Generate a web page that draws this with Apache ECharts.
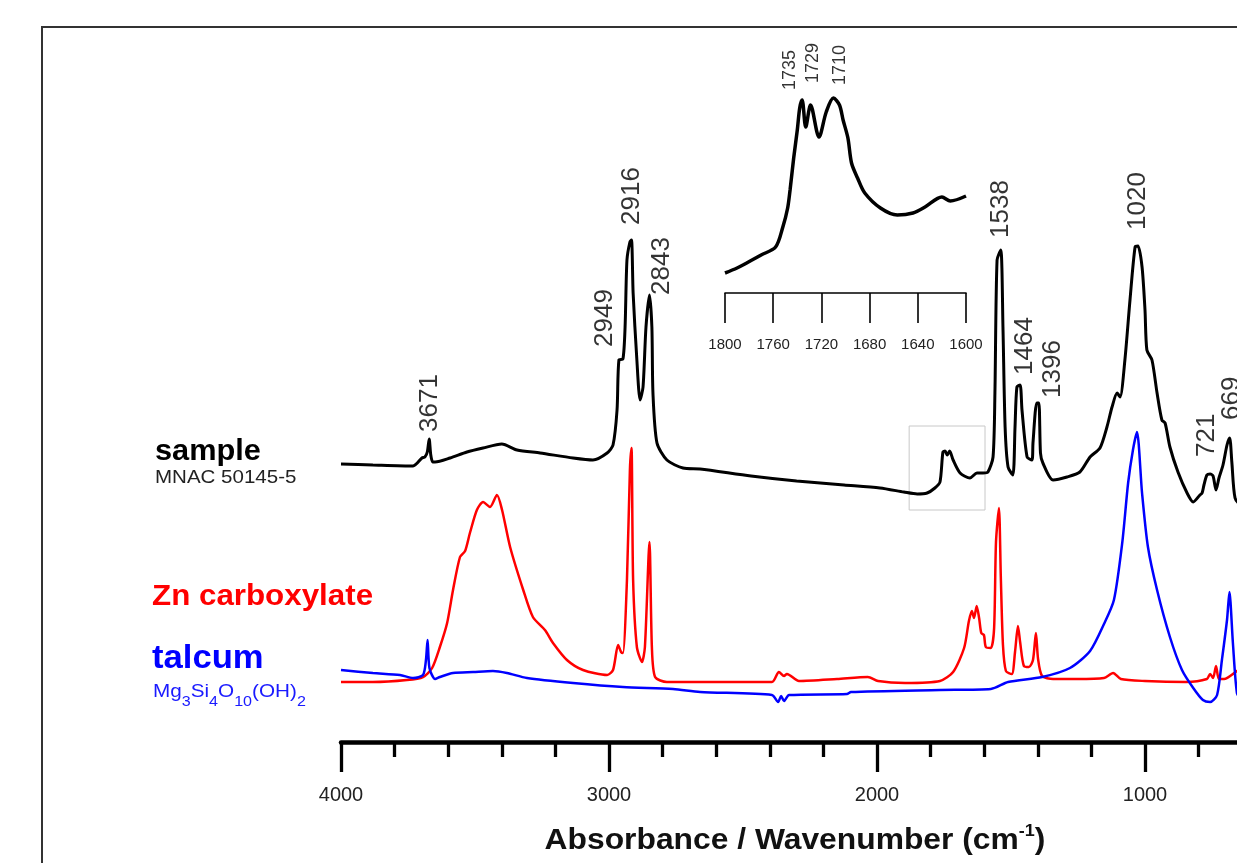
<!DOCTYPE html>
<html>
<head>
<meta charset="utf-8">
<script src="https://cdn.jsdelivr.net/npm/echarts@6/dist/echarts.min.js"></script>
<style>
html,body{margin:0;padding:0;background:#fff;}
#chart{width:1237px;height:863px;}
</style>
</head>
<body>
<div id="chart"></div>
<script>
// ---- data: [wavenumber cm-1, offset absorbance (arbitrary units)] ----
const sampleSpectrum = [
 [4000,278],[3881,277],[3731,276],[3698,284],[3687,285],[3678,290],[3671,303],[3665,287],[3658,280],
 [3649,280],[3593,284],[3530,290],[3470,294],[3400,298],[3343,292],[3257,289],[3134,284],[3060,282],
 [3007,289],[2985,297],[2970,332],[2963,382],[2948,383],[2940,415],[2933,482],[2922,500],[2916,502],
 [2910,449],[2896,382],[2884,342],[2873,355],[2862,415],[2849,447],[2840,415],[2836,349],[2821,299],
 [2784,282],[2724,274],[2660,273],[2470,266],[2300,261],[2123,257],[1989,254],[1900,250],[1850,248],
 [1813,249],[1784,254],[1765,260],[1754,290],[1746,291],[1738,287],[1729,291],[1716,282],[1690,269],
 [1653,264],[1627,269],[1604,269],[1586,270],[1567,285],[1560,349],[1552,482],[1538,492],[1530,415],
 [1522,315],[1511,275],[1493,267],[1485,315],[1478,355],[1466,357],[1459,332],[1440,285],[1422,282],
 [1418,299],[1404,339],[1396,339],[1390,289],[1381,279],[1343,262],[1291,265],[1243,270],[1205,285],
 [1168,294],[1142,315],[1123,335],[1104,349],[1093,345],[1075,382],[1056,442],[1037,495],[1026,496],
 [1011,475],[1000,432],[993,392],[974,382],[955,349],[937,322],[925,319],[907,295],[877,270],[843,249],
 [820,240],[795,247],[787,249],[780,257],[769,267],[757,268],[746,266],[735,252],[724,264],[709,277],
 [694,297],[684,304],[676,280],[664,244],[640,237],[600,242]
];
const znCarboxylateSpectrum = [
 [4000,60],[3881,60],[3754,62],[3694,65],[3660,74],[3631,95],[3604,119],[3582,152],[3556,185],[3537,191],
 [3519,209],[3493,232],[3470,240],[3444,235],[3418,247],[3399,232],[3369,195],[3320,152],[3284,125],
 [3239,112],[3209,99],[3157,82],[3097,72],[3007,67],[2985,72],[2966,97],[2955,90],[2948,89],[2933,162],
 [2922,272],[2916,294],[2910,162],[2896,95],[2877,80],[2866,95],[2849,200],[2840,95],[2828,65],[2784,60],
 [2660,60],[2392,60],[2366,70],[2347,66],[2336,68],[2291,61],[2149,63],[2034,65],[1996,61],[1895,59],
 [1765,61],[1716,70],[1675,94],[1657,121],[1646,131],[1638,124],[1628,136],[1619,124],[1611,109],
 [1601,107],[1594,95],[1575,94],[1563,114],[1556,200],[1545,234],[1538,165],[1530,97],[1519,71],
 [1497,68],[1485,90],[1474,116],[1466,100],[1452,76],[1433,75],[1418,82],[1407,109],[1399,83],[1384,66],
 [1343,63],[1254,63],[1153,64],[1119,69],[1090,63],[1000,61],[847,60],[769,63],[757,68],[746,64],
 [735,76],[724,63],[705,63],[657,71],[620,77]
];
const talcumSpectrum = [
 [4000,72],[3881,69],[3780,67],[3731,64],[3694,67],[3683,82],[3677,102],[3670,74],[3649,63],[3631,65],
 [3582,69],[3507,70],[3433,71],[3381,69],[3306,64],[3134,59],[2948,55],[2761,53],[2660,50],[2392,47],
 [2369,40],[2358,46],[2347,41],[2328,47],[2112,48],[2097,50],[1765,52],[1575,53],[1511,60],[1384,65],
 [1280,74],[1205,91],[1153,118],[1116,142],[1085,199],[1063,259],[1045,292],[1030,310],[1011,249],
 [989,195],[955,152],[907,105],[862,72],[820,54],[784,42],[757,40],[731,47],[713,82],[694,122],
 [685,150],[672,99],[657,49],[640,42]
];
const insetSpectrum = [
 [1800,20],[1790,25],[1782,30],[1770,38],[1758,46],[1752,66],[1748,85],[1746,103],[1743,135],[1740,163],
 [1738,185],[1736,193],[1733,166],[1729,188],[1722,156],[1716,181],[1710,195],[1705,188],[1702,173],
 [1698,155],[1695,130],[1690,115],[1684,100],[1671,85],[1657,78],[1644,80],[1634,86],[1620,96],
 [1613,92],[1600,97]
];
// peak annotations: text, wavenumber of label anchor, height of label foot
const peakLabels = ['3671','2949','2916','2843','1538','1464','1396','1020','721','669'];
const peakLabelWn = [3668,3015,2914,2802,1537,1448,1343,1026,769,675];
const peakLabelY  = [310,395,517,447,504,367,344,512,285,322];
const insetLabels = ['1735','1729','1710'];
const insetLabelWn = [1746,1727,1704.5];
const insetLabelY  = [203,210,208];
// zoom box on the main spectrum (wavenumber range, height range)
const zoomBoxWn = [1880,1597];
const zoomBoxY  = [316,232];
const mainTicks = {min:0, max:4000, interval:1000};
const insetTicks = {min:1600, max:1800, interval:40};

const FONT = "'Liberation Sans', Arial, Helvetica, sans-serif";
const chart = echarts.init(document.getElementById('chart'), null, {renderer:'canvas'});

function labelData(names, xs, ys){
  return names.map((n,i)=>({name:n, value:[xs[i], ys[i]]}));
}
const rotLabel = (size)=>({
  show:true, formatter:'{b}', position:'inside', rotate:90, align:'left', verticalAlign:'middle',
  fontSize:size, color:'#000', fontFamily:FONT, distance:0, textBorderWidth:0, textBorderColor:'transparent'
});
const plain = v => String(v);

const option = {
  animation:false,
  backgroundColor:'#fff',
  textStyle:{fontFamily:FONT},
  grid:[
    {left:341, top:26, width:1072, height:716, outerBoundsMode:'none', containLabel:false},
    {left:725, top:80, width:241, height:213, outerBoundsMode:'none', containLabel:false}
  ],
  xAxis:[
    {gridIndex:0, type:'value', min:mainTicks.min, max:mainTicks.max, interval:mainTicks.interval, inverse:true,
     axisLine:{show:true, onZero:false, lineStyle:{color:'#000', width:4.5}},
     axisTick:{show:true, length:30, lineStyle:{color:'#000', width:3.3}},
     minorTick:{show:true, splitNumber:5, length:15, lineStyle:{color:'#000', width:3.3}},
     axisLabel:{fontSize:20, color:'#222', margin:43, fontFamily:FONT, formatter:plain},
     splitLine:{show:false}, minorSplitLine:{show:false}},
    {gridIndex:1, type:'value', min:insetTicks.min, max:insetTicks.max, interval:insetTicks.interval, inverse:true,
     axisLine:{show:true, onZero:false, lineStyle:{color:'#000', width:1.6}},
     axisTick:{show:true, length:30, lineStyle:{color:'#000', width:1.6}},
     axisLabel:{fontSize:15, color:'#222', margin:44, fontFamily:FONT, formatter:plain},
     splitLine:{show:false}}
  ],
  yAxis:[
    {gridIndex:0, type:'value', min:0, max:716, show:false},
    {gridIndex:1, type:'value', min:0, max:213, show:false}
  ],
  series:[
    {name:'Zn carboxylate', type:'line', xAxisIndex:0, yAxisIndex:0, data:znCarboxylateSpectrum,
     showSymbol:false, smooth:0.25, lineStyle:{color:'#ff0000', width:2.5}, silent:true},
    {name:'talcum', type:'line', xAxisIndex:0, yAxisIndex:0, data:talcumSpectrum,
     showSymbol:false, smooth:0.25, lineStyle:{color:'#0000ff', width:2.5}, silent:true},
    {name:'sample', type:'line', xAxisIndex:0, yAxisIndex:0, data:sampleSpectrum,
     showSymbol:false, smooth:0.25, lineStyle:{color:'#000', width:3}, silent:true,
     markArea:{silent:true, itemStyle:{color:'rgba(0,0,0,0)', borderColor:'#c8c8c8', borderWidth:1},
       data:[[{coord:[zoomBoxWn[0], zoomBoxY[0]]},{coord:[zoomBoxWn[1], zoomBoxY[1]]}]]}},
    {name:'inset', type:'line', xAxisIndex:1, yAxisIndex:1, data:insetSpectrum,
     showSymbol:false, smooth:0.3, lineStyle:{color:'#000', width:3.5}, silent:true},
    {name:'peaks', type:'scatter', xAxisIndex:0, yAxisIndex:0, symbolSize:1,
     itemStyle:{color:'rgba(0,0,0,0)'}, data:labelData(peakLabels, peakLabelWn, peakLabelY),
     label:rotLabel(26), silent:true},
    {name:'insetPeaks', type:'scatter', xAxisIndex:1, yAxisIndex:1, symbolSize:1,
     itemStyle:{color:'rgba(0,0,0,0)'}, data:labelData(insetLabels, insetLabelWn, insetLabelY),
     label:rotLabel(18), silent:true}
  ],
  graphic:[
    {type:'rect', silent:true, z:-1, shape:{x:42, y:27, width:1400, height:1000},
     style:{fill:'none', stroke:'#333', lineWidth:2}},
    {type:'text', x:155, y:452, scaleX:1.06, silent:true,
     style:{text:'sample', font:"bold 29px "+FONT, fill:'#000', textAlign:'left', textVerticalAlign:'middle'}},
    {type:'text', x:155, y:478, scaleX:1.08, silent:true,
     style:{text:'MNAC 50145-5', font:"19px "+FONT, fill:'#222', textAlign:'left', textVerticalAlign:'middle'}},
    {type:'text', x:152, y:597, scaleX:1.08, silent:true,
     style:{text:'Zn carboxylate', font:"bold 29px "+FONT, fill:'#ff0000', textAlign:'left', textVerticalAlign:'middle'}},
    {type:'text', x:152, y:659, scaleX:1.05, silent:true,
     style:{text:'talcum', font:"bold 33px "+FONT, fill:'#0000ff', textAlign:'left', textVerticalAlign:'middle'}},
    {type:'text', x:153, y:692, scaleX:1.15, silent:true,
     style:{text:'{n|Mg}{s|3}{n|Si}{s|4}{n|O}{s|10}{n|(OH)}{s|2}', textAlign:'left', textVerticalAlign:'middle',
       fill:'#1a1aff',
       rich:{n:{fontSize:18, lineHeight:34, verticalAlign:'middle', fill:'#1a1aff', fontFamily:FONT},
             s:{fontSize:14, lineHeight:14, verticalAlign:'bottom', fill:'#1a1aff', fontFamily:FONT}}}},
    {type:'text', x:795, y:841, scaleX:1.06, silent:true,
     style:{text:'{n|Absorbance / Wavenumber (cm}{p|-1}{n|)}', textAlign:'center', textVerticalAlign:'middle',
       fill:'#111',
       rich:{n:{fontSize:30, fontWeight:'bold', lineHeight:36, verticalAlign:'middle', fill:'#111', fontFamily:FONT},
             p:{fontSize:17, fontWeight:'bold', lineHeight:26, verticalAlign:'top', fill:'#111', fontFamily:FONT}}}}
  ]
};
chart.setOption(option);
</script>
</body>
</html>
